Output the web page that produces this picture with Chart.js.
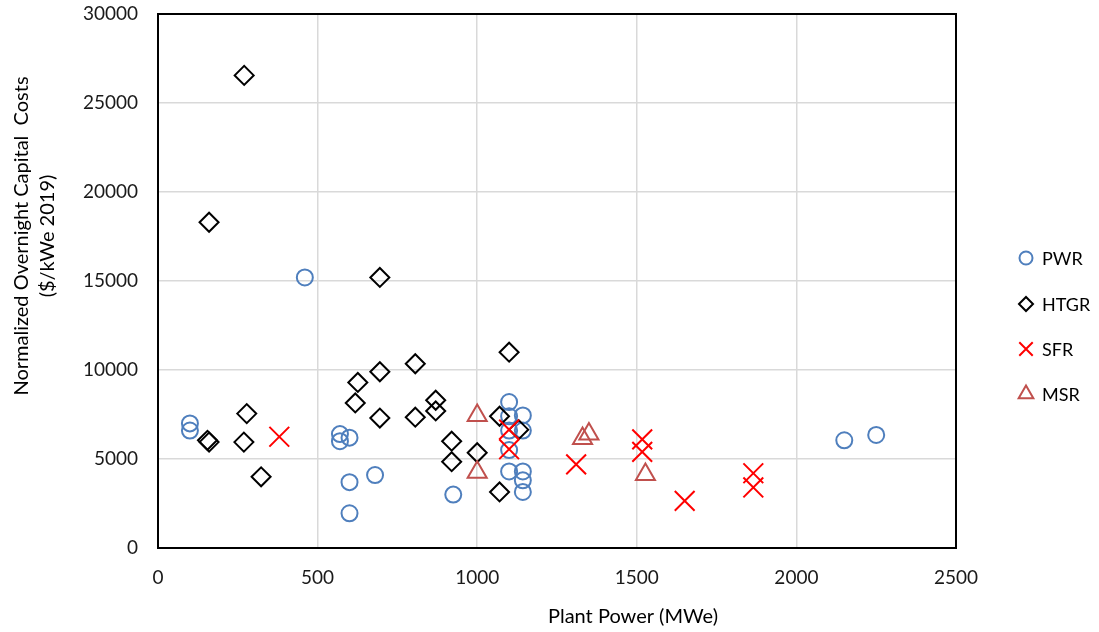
<!DOCTYPE html>
<html>
<head>
<meta charset="utf-8">
<script src="https://cdn.jsdelivr.net/npm/chart.js@4.4.1/dist/chart.umd.min.js"></script>
<style>
  html, body { margin: 0; padding: 0; background: #fff; }
  #wrap { width: 1099px; height: 632px; }
</style>
</head>
<body>
<div id="wrap"><canvas id="cost-chart" width="1099" height="632"></canvas></div>
<script>
// values
const seriesNames = ["PWR", "HTGR", "SFR", "MSR"];

const pwrX = [100, 100, 460, 570, 600, 570, 600, 680, 600, 925, 1100, 1100, 1100, 1100, 1100, 1143, 1143, 1143, 1143, 1143, 2150, 2250];
const pwrY = [7000, 6600, 15200, 6400, 6200, 6000, 3700, 4100, 1950, 3000, 8200, 7400, 6600, 5500, 4300, 7450, 6600, 4300, 3800, 3150, 6050, 6350];

const htgrX = [270, 160, 695, 155, 160, 278, 269, 323, 626, 695, 806, 618, 695, 806, 870, 870, 920, 920, 1000, 1100, 1070, 1130, 1070];
const htgrY = [26550, 18300, 15200, 6050, 5950, 7550, 5950, 4000, 9300, 9900, 10350, 8150, 7300, 7350, 8300, 7700, 6000, 4850, 5350, 11000, 7400, 6650, 3150];

const sfrX = [380, 1100, 1100, 1310, 1517, 1517, 1650, 1865, 1865];
const sfrY = [6250, 6650, 5550, 4700, 6100, 5400, 2650, 4200, 3400];

const msrX = [1000, 1000, 1330, 1350, 1527];
const msrY = [7450, 4250, 6150, 6400, 4130];

const xTitle = "Plant Power (MWe)";
const yTitle = ["Normalized Overnight Capital  Costs", "($/kWe 2019)"];

function pts(xs, ys) {
    return xs.map((x, i) => ({ x: x, y: ys[i] }));
}

const FONT = "Lato, 'Open Sans', sans-serif";

// titles, plot border and legend drawn by hand so they sit where the original has them
const extras = {
    id: "extras",
    beforeDatasetsDraw(chart) {
        const a = chart.chartArea;
        const ctx = chart.ctx;
        ctx.save();
        ctx.strokeStyle = "#000";
        ctx.lineWidth = 2;
        ctx.strokeRect(a.left, a.top, a.right - a.left, a.bottom - a.top);
        ctx.restore();
    },
    afterDraw(chart) {
        const ctx = chart.ctx;
        ctx.save();
        ctx.fillStyle = "#000";
        ctx.font = "20px " + FONT;
        ctx.textAlign = "center";
        ctx.textBaseline = "middle";
        ctx.fillText(xTitle, 633, 617);

        ctx.save();
        ctx.translate(22, 236);
        ctx.rotate(-Math.PI / 2);
        ctx.fillText(yTitle[0], 0, 0);
        ctx.fillText(yTitle[1], 0, 26);
        ctx.restore();

        // legend
        const rows = [258, 304, 349, 394];
        const legendSize = [6.5, 7, 9.5, 8.5];
        ctx.font = "18px " + FONT;
        ctx.textAlign = "left";
        chart.data.datasets.forEach((ds, i) => {
            ctx.save();
            ctx.strokeStyle = ds.borderColor;
            ctx.fillStyle = "rgba(0,0,0,0)";
            ctx.lineWidth = 2;
            Chart.helpers.drawPoint(ctx, {
                pointStyle: ds.pointStyle,
                radius: legendSize[i],
                rotation: 0,
                borderWidth: 2
            }, 1026, rows[i]);
            ctx.restore();
            ctx.fillStyle = "#000";
            ctx.fillText(ds.label, 1042, rows[i] + 1);
        });
        ctx.restore();
    }
};

const ctx = document.getElementById("cost-chart").getContext("2d");

const chart = new Chart(ctx, {
    type: "scatter",
    data: {
        datasets: [
            {
                label: seriesNames[0],
                data: pts(pwrX, pwrY),
                pointStyle: "circle",
                pointRadius: 8,
                borderColor: "#4f7fbd",
                backgroundColor: "rgba(0,0,0,0)",
                pointBorderWidth: 2,
                order: 4
            },
            {
                label: seriesNames[1],
                data: pts(htgrX, htgrY),
                pointStyle: "rectRot",
                pointRadius: 9.5,
                borderColor: "#000000",
                backgroundColor: "rgba(0,0,0,0)",
                pointBorderWidth: 2,
                order: 3
            },
            {
                label: seriesNames[2],
                data: pts(sfrX, sfrY),
                pointStyle: "crossRot",
                pointRadius: 14,
                borderColor: "#ff0000",
                backgroundColor: "rgba(0,0,0,0)",
                pointBorderWidth: 2,
                order: 2
            },
            {
                label: seriesNames[3],
                data: pts(msrX, msrY),
                pointStyle: "triangle",
                pointRadius: 11,
                borderColor: "#c0504d",
                backgroundColor: "rgba(0,0,0,0)",
                pointBorderWidth: 2,
                order: 1
            }
        ]
    },
    options: {
        responsive: false,
        animation: false,
        events: [],
        layout: { autoPadding: false, padding: { top: 14, right: 143, bottom: 0, left: 0 } },
        plugins: {
            legend: { display: false },
            tooltip: { enabled: false }
        },
        scales: {
            x: {
                type: "linear",
                min: 0,
                max: 2500,
                afterFit: function(scale) {
                    scale.height = 84;
                    scale.paddingLeft = 0;
                    scale.paddingRight = 0;
                },
                ticks: {
                    stepSize: 500,
                    padding: 18,
                    color: "#1a1a1a",
                    font: { family: FONT, size: 19 },
                    callback: function(v) { return String(v); }
                },
                grid: { color: "#d9d9d9", lineWidth: 1.5, drawTicks: false },
                border: { display: false }
            },
            y: {
                min: 0,
                max: 30000,
                afterFit: function(scale) {
                    scale.width = 158;
                    scale.paddingTop = 0;
                    scale.paddingBottom = 0;
                },
                ticks: {
                    stepSize: 5000,
                    padding: 20,
                    color: "#1a1a1a",
                    font: { family: FONT, size: 19 },
                    callback: function(v) { return String(v); }
                },
                grid: { color: "#d9d9d9", lineWidth: 1.5, drawTicks: false },
                border: { display: false }
            }
        }
    },
    plugins: [extras]
});
</script>
</body>
</html>
